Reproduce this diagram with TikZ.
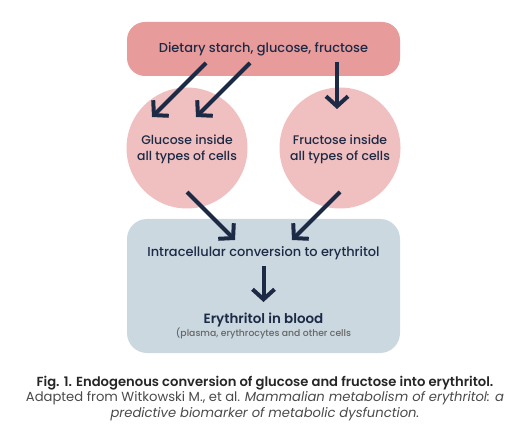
\documentclass[tikz,border=0pt]{standalone}
\usepackage{fontspec}
\setmainfont{Poppins}
\newfontfamily\medfont{Poppins}[UprightFont=* Medium, ItalicFont=* Italic, BoldFont=* SemiBold]
\usetikzlibrary{arrows.meta}
\definecolor{navy}{HTML}{1C2A46}
\definecolor{dietred}{HTML}{E89B9B}
\definecolor{cellpink}{HTML}{F0BFBF}
\definecolor{bloodblue}{HTML}{CBD8E0}
\definecolor{capgray}{HTML}{4A4A4A}
\tikzset{
  sourcebox/.style={fill=dietred, rounded corners=18bp, minimum width=273bp, minimum height=54bp, text=navy, font=\medfont\fontsize{13}{15}\selectfont},
  cell/.style={circle, fill=cellpink, minimum size=121bp, inner sep=0pt, align=center, text=navy, font=\medfont\fontsize{12.5}{16}\selectfont},
  bloodbox/.style={fill=bloodblue, rounded corners=20bp, minimum width=273bp, minimum height=134bp},
  flow/.style={->, line width=4bp, draw=navy}
}
\begin{document}
\begin{tikzpicture}[x=1bp, y=-1bp, >={Straight Barb[length=10bp,width=22bp]}]
  \useasboundingbox (0,0) rectangle (530,442);
  \node[sourcebox] (diet) at (263.5,49) {Dietary starch, glucose, fructose};
  \node[cell] (glucose) at (187,148) {\\[-4bp]Glucose inside\\all types of cells};
  \node[cell] (fructose) at (340,148) {\\[-4bp]Fructose inside\\all types of cells};
  \node[bloodbox] (cells) at (263.5,286) {};
  \node[text=navy, font=\medfont\fontsize{13}{15}\selectfont] (conv) at (263.5,253) {Intracellular conversion to erythritol};
  \node[text=navy, font=\medfont\fontsize{13.5}{15}\selectfont\bfseries] (blood) at (263.5,320) {Erythritol in blood};
  \node[text=black!60, font=\medfont\fontsize{9.3}{11}\selectfont] (plasma) at (263.5,333) {(plasma, erythrocytes and other cells};

  % arrow ends
  \coordinate (g1) at (206,63);
  \coordinate (g1e) at (152,117);
  \coordinate (g2) at (250,63);
  \coordinate (g2e) at (196,117);
  \coordinate (f1) at (337,62);
  \coordinate (f1e) at (337,109);
  \coordinate (g3) at (187,192);
  \coordinate (g3e) at (235,240);
  \coordinate (f3) at (340,192);
  \coordinate (f3e) at (292,240);
  \coordinate (c1) at (263.5,266);
  \coordinate (c1e) at (263.5,302);
  \draw[flow] (g1) -- (g1e);
  \draw[flow] (g2) -- (g2e);
  \draw[flow] (f1) -- (f1e);
  \draw[flow] (g3) -- (g3e);
  \draw[flow] (f3) -- (f3e);
  \draw[flow] (c1) -- (c1e);

  \node[align=center, text=capgray, font=\fontsize{13.2}{15.5}\selectfont] (caption) at (265,398.5)
    {{\medfont\bfseries\color{black!85} Fig. 1. Endogenous conversion of glucose and fructose into erythritol.}\\
     Adapted from Witkowski M., et al. \textit{Mammalian metabolism of erythritol: a}\\
     \textit{predictive biomarker of metabolic dysfunction.}};
\end{tikzpicture}
\end{document}
